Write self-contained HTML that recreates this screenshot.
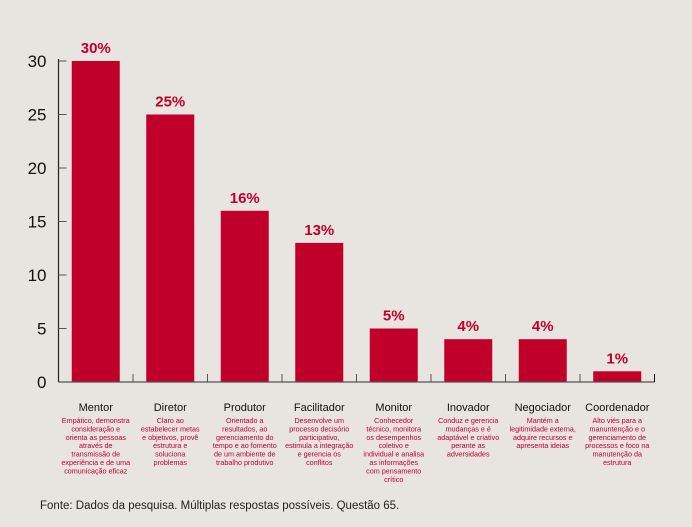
<!DOCTYPE html>
<html><head><meta charset="utf-8"><style>
body{margin:0;background:#e8e4e0;width:692px;height:527px;overflow:hidden;font-family:"Liberation Sans",sans-serif}
svg{display:block}
</style></head><body>
<svg id="chart" width="692" height="527" viewBox="0 0 692 527"></svg>
<script>
const categories=["Mentor","Diretor","Produtor","Facilitador","Monitor","Inovador","Negociador","Coordenador"];
const values=[30,25,16,13,5,4,4,1];
const valueLabels=["30%","25%","16%","13%","5%","4%","4%","1%"];
const yTicks=[0,5,10,15,20,25,30];
const descriptions=[
["Empático, demonstra","consideração e","orienta as pessoas","através de","transmissão de","experiência e de uma","comunicação eficaz"],
["Claro ao","estabelecer metas","e objetivos, provê","estrutura e","soluciona","problemas"],
["Orientado a","resultados, ao","gerenciamento do","tempo e ao fomento","de um ambiente de","trabalho produtivo"],
["Desenvolve um","processo decisório","participativo,","estimula a integração","e gerencia os","conflitos"],
["Conhecedor","técnico, monitora","os desempenhos","coletivo e","individual e analisa","as informações","com pensamento","crítico"],
["Conduz e gerencia","mudanças e é","adaptável e criativo","perante as","adversidades"],
["Mantém a","legitimidade externa,","adquire recursos e","apresenta ideias"],
["Alto viés para a","manuntenção e o","gerenciamento de","processos e foco na","manutenção da","estrutura"]];
const NS="http://www.w3.org/2000/svg";
const svg=document.getElementById('chart');
const x0=58.5,band=74.5,y0=382,yTop=61,yMax=30,barW=48;
const y=v=>y0-(v/yMax)*(y0-yTop);
const xc=i=>x0+band*i+band/2;
function mk(t,a,p){const e=document.createElementNS(NS,t);for(const k in a)e.setAttribute(k,a[k]);(p||svg).appendChild(e);return e;}
// y axis
let ax=mk('line',{x1:x0,y1:yTop-2,x2:x0,y2:y0,stroke:'#222','stroke-width':1.2});


yTicks.forEach(v=>{
 const t=mk('line',{x1:x0,y1:y(v),x2:x0+8,y2:y(v),stroke:'#555','stroke-width':1});
 
 
 const l=mk('text',{x:x0-12,y:y(v)+6,'text-anchor':'end','font-size':17,fill:'#111'});
 l.textContent=v;
 
 
});
// bars
values.forEach((v,i)=>{
 const r=mk('rect',{x:xc(i)-barW/2,y:y(v),width:barW,height:y0-y(v),fill:'#c0002b'});
 
 
 const l=mk('text',{x:xc(i),y:y(v)-8,'text-anchor':'middle','font-size':15,'font-weight':'bold',fill:'#c0002b'});
 l.textContent=valueLabels[i];
 
 
 const c=mk('text',{x:xc(i),y:411,'text-anchor':'middle','font-size':11,fill:'#111'});
 c.textContent=categories[i];
 
 
 descriptions[i].forEach((s,j)=>{
  const d=mk('text',{x:xc(i),y:423+j*8.4,'text-anchor':'middle','font-size':7.2,fill:'#c0002b'});
  d.textContent=s;
  
  
 });
});
// x axis
const xa=mk('line',{x1:x0,y1:y0,x2:x0+band*8,y2:y0,stroke:'#555','stroke-width':1.2});


for(let i=1;i<=8;i++){
 const t=mk('line',{x1:x0+band*i,y1:y0,x2:x0+band*i,y2:y0-8,stroke:i==8?'#111':'#555','stroke-width':1});
 
 
}
const f=mk('text',{x:40,y:509,'font-size':11.5,fill:'#222'});
f.textContent='Fonte: Dados da pesquisa. Múltiplas respostas possíveis. Questão 65.';


</script>
</body></html>
